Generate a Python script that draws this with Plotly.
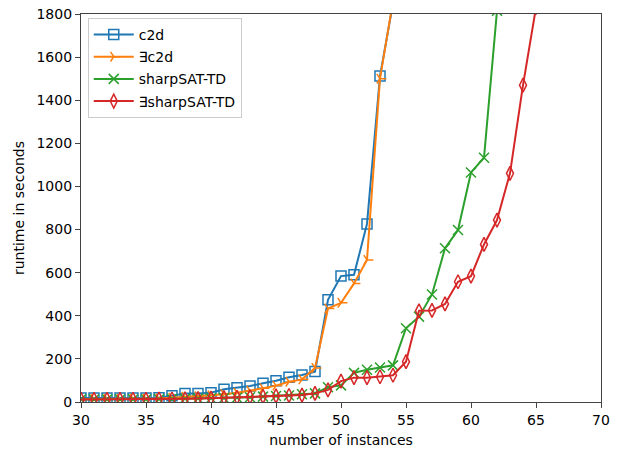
import plotly.graph_objects as go

x_c2d = list(range(30, 55))
c2d = [18, 18, 18, 18, 18, 19, 20, 29, 40, 40, 43, 59, 66, 74, 87, 99, 115, 125, 141,
       474, 584, 590, 826, 1512, 1850]

x_ec2d = list(range(30, 55))
ec2d = [14, 14, 14, 14, 15, 15, 16, 20, 24, 27, 31, 36, 43, 52, 64, 76, 94, 105, 158,
        434, 460, 550, 659, 1500, 1860]

x_ssat = list(range(30, 63))
ssat = [12, 12, 12, 12, 12, 12, 13, 14, 15, 16, 17, 18, 20, 22, 25, 28, 30, 36, 40,
        68, 77, 135, 150, 160, 170, 342, 396, 499, 713, 798, 1065, 1133, 1815]

x_essat = list(range(30, 66))
essat = [12, 12, 12, 12, 12, 12, 13, 14, 15, 16, 18, 20, 22, 24, 26, 28, 30, 32, 40,
         56, 97, 113, 113, 117, 124, 187, 423, 425, 455, 558, 584, 731, 844, 1061, 1470, 1830]

colors = ["#1f77b4", "#ff7f0e", "#2ca02c", "#d62728"]

fig = go.Figure()
fig.add_trace(go.Scatter(x=x_c2d, y=c2d, name="c2d", mode="lines+markers", legendgroup="a",
                         line=dict(color=colors[0], width=2),
                         marker=dict(symbol="square-open", size=10, color=colors[0], line=dict(width=1.5))))
fig.add_trace(go.Scatter(x=x_ec2d, y=ec2d, name="∃c2d", mode="lines+markers", legendgroup="b",
                         line=dict(color=colors[1], width=2),
                         marker=dict(symbol="y-right-open", size=8, color=colors[1], line=dict(width=1.5, color=colors[1]))))
fig.add_trace(go.Scatter(x=x_ssat, y=ssat, name="sharpSAT-TD", mode="lines+markers", legendgroup="c",
                         line=dict(color=colors[2], width=2),
                         marker=dict(symbol="x-thin-open", size=10, color=colors[2], line=dict(width=1.5, color=colors[2]))))
fig.add_trace(go.Scatter(x=x_essat, y=essat, name="∃sharpSAT-TD", mode="lines+markers", legendgroup="d",
                         line=dict(color=colors[3], width=2),
                         marker=dict(symbol="diamond-tall-open", size=10, color=colors[3], line=dict(width=1.5))))

axis_common = dict(showgrid=False, zeroline=False, showline=True, mirror=True,
                   linecolor="#444", linewidth=1.2, ticks="outside", ticklen=5,
                   tickcolor="#444", automargin=False,
                   tickfont=dict(family="DejaVu Sans", size=14, color="black"))

fig.update_layout(
    width=619, height=450,
    margin=dict(l=81, r=18, t=14, b=48),
    paper_bgcolor="white", plot_bgcolor="white",
    font=dict(family="DejaVu Sans", size=14, color="black"),
    xaxis=dict(range=[30, 70], dtick=5, tick0=30,
               title=dict(text="number of instances", standoff=8, font=dict(size=14)),
               **axis_common),
    yaxis=dict(range=[0, 1800], dtick=200,
               title=dict(text="runtime in seconds", standoff=8, font=dict(size=14)),
               **axis_common),
    legend=dict(x=0.013, y=0.99, xanchor="left", yanchor="top",
                bgcolor="rgba(255,255,255,0.8)", bordercolor="#ccc", borderwidth=1,
                font=dict(size=14), traceorder="grouped", tracegroupgap=1, itemwidth=40),
    showlegend=True,
)

fig.write_html("out.html")
